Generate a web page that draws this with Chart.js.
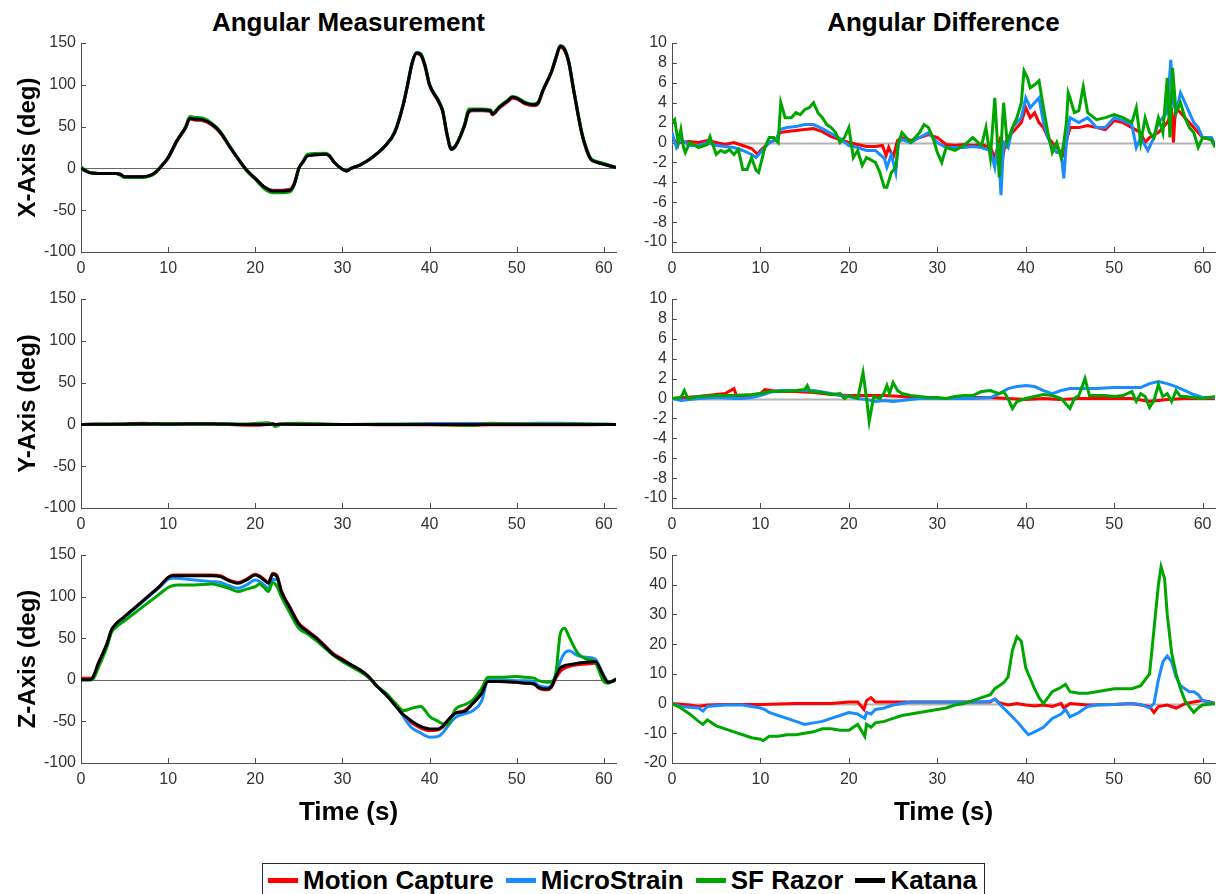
<!DOCTYPE html>
<html>
<head>
<meta charset="utf-8">
<script src="https://cdn.jsdelivr.net/npm/chart.js@4.4.1/dist/chart.umd.min.js"></script>
<style>
  body { margin: 0; background: #fff; width: 1220px; height: 894px; overflow: hidden; position: relative;
         font-family: "Liberation Sans", Arial, sans-serif; }
  canvas { position: absolute; }
  .col-title { position: absolute; top: 7px; height: 30px; line-height: 30px; font-weight: bold; font-size: 26px;
               text-align: center; color: #000; }
  #legend { position: absolute; left: 262px; top: 863px; width: 723px; height: 40px; box-sizing: border-box;
            border: 1px solid #262626; display: flex; align-items: flex-start; padding-left: 5px; }
  #legend .item { display: flex; align-items: center; height: 32px; margin-right: 12px;
                  font-weight: bold; font-size: 26px; color: #000; white-space: nowrap; }
  #legend .item i { display: inline-block; width: 30px; height: 5px; margin-right: 5px; }
</style>
</head>
<body>
<div class="col-title" style="left:81px;width:535px">Angular Measurement</div>
<div class="col-title" style="left:672px;width:543px">Angular Difference</div>

<canvas id="measX"></canvas>
<canvas id="measY"></canvas>
<canvas id="measZ"></canvas>
<canvas id="diffX"></canvas>
<canvas id="diffY"></canvas>
<canvas id="diffZ"></canvas>

<div id="legend">
  <span class="item"><i style="background:#ff0000"></i>Motion Capture</span>
  <span class="item"><i style="background:#1a8cff"></i>MicroStrain</span>
  <span class="item"><i style="background:#00a600"></i>SF Razor</span>
  <span class="item"><i style="background:#000000"></i>Katana</span>
</div>

<script>
// ---- tick labels ----
const timeTicks = [0, 10, 20, 30, 40, 50, 60];
const angleTicks = [-100, -50, 0, 50, 100, 150];
const diffTicks = [-10, -8, -6, -4, -2, 0, 2, 4, 6, 8, 10];
const diffZTicks = [-20, -10, 0, 10, 20, 30, 40, 50];

// ---- angular measurement, X axis ----
const timeX = [0, 1, 2, 4, 4.5, 5, 7, 8, 8.5, 9, 10, 11, 12, 12.5, 13, 14, 15, 16, 17, 18,
  19, 20, 21, 22, 23, 24, 24.5, 25, 25.5, 26, 28, 28.5, 29, 30, 30.5, 31, 32, 33, 34, 35,
  36, 37, 37.5, 38, 38.5, 39, 39.5, 40, 41, 41.5, 42, 42.5, 43, 44, 44.5, 45, 46, 47, 47.2, 48,
  49, 49.5, 50, 51, 52, 52.5, 53, 54, 54.5, 55, 55.5, 56, 56.5, 57, 57.5, 58, 58.5, 59, 60, 61.4];
const mocapX = [0, -5, -6, -6, -7, -10, -10, -8, -5, 0, 12, 32, 48, 59, 58, 57, 52, 42, 27, 12,
  -2, -12, -22, -26, -26, -25, -17, 0, 8, 15, 17, 15, 8, -1, -3, 0, 4, 10, 18, 28,
  43, 77, 100, 125, 137, 135, 121, 99, 80, 68, 40, 23, 27, 50, 67, 69, 69, 68, 64, 72,
  80, 84, 83, 77, 75, 78, 92, 115, 131, 145, 141, 125, 95, 66, 40, 22, 11, 8, 5, 1];
const microX = [-1, -5, -6, -6, -7, -10, -11, -8, -5, 0, 13, 33, 49, 60, 59, 58, 53, 43, 27, 12,
  -2, -12, -22, -27, -27, -26, -18, 0, 8, 15, 17, 15, 8, -1, -3, 0, 4, 10, 18, 28,
  44, 78, 102, 127, 139, 137, 123, 101, 82, 69, 41, 23, 27, 51, 68, 70, 70, 69, 65, 73,
  81, 85, 84, 78, 76, 79, 93, 116, 133, 147, 143, 127, 97, 68, 42, 24, 12, 8, 5, 1];
const razorX = [2, -5, -6, -6, -8, -11, -11, -9, -6, 0, 13, 33, 50, 62, 61, 60, 54, 44, 28, 12,
  -3, -13, -24, -29, -29, -28, -19, 0, 9, 17, 18, 16, 8, -1, -3, 0, 4, 10, 18, 28,
  43, 77, 101, 126, 138, 137, 123, 100, 82, 70, 42, 24, 28, 52, 71, 71, 71, 70, 66, 74,
  82, 86, 85, 79, 77, 80, 93, 116, 132, 146, 143, 127, 97, 68, 42, 24, 12, 9, 6, 1];
const katanaX = [0, -5, -6, -6, -7, -10, -10, -8, -5, 0, 13, 33, 49, 60, 59, 58, 53, 43, 27, 12,
  -2, -12, -22, -27, -27, -26, -18, 0, 8, 15, 17, 15, 8, -1, -3, 0, 4, 10, 18, 28,
  43, 77, 101, 126, 138, 136, 122, 100, 81, 69, 41, 23, 27, 51, 68, 70, 70, 69, 65, 73,
  81, 85, 84, 78, 76, 79, 93, 116, 132, 146, 142, 126, 96, 67, 41, 23, 11, 8, 5, 1];

// ---- angular measurement, Y axis ----
const timeY = [0, 5, 7, 10, 15, 19, 21.5, 22, 22.3, 23, 25, 30, 35, 40, 45, 47, 50, 55, 58, 61.4];
const mocapY = [0, 0.5, 1.5, 0.5, 0.5, -1, 0, 1, 0, 0.5, 0, 0, -0.5, -0.5, -1, -0.5, -0.5, -0.5, -0.5, 0];
const microY = [0, 0, 0, 0.5, 0.5, 0, 0, 0, 0, 0, 0, 0, 0, 1, 1, 1, 1, 1.5, 0.5, 0];
const razorY = [0, 0.5, 0.5, 1, 1, 0.5, 2, 0, -2.5, 0.5, 1.5, 0, 0.5, 0, -1, 1.5, 0.5, 0.5, 0.5, 0];
const katanaY = [0, 0.3, 0.5, 0.3, 0.5, 0, 0, 0.3, 0, 0.3, 0, 0, 0, 0, 0, 0, 0, 0, 0, 0];

// ---- angular measurement, Z axis ----
const timeZ = [0, 1, 1.3, 2, 3, 3.5, 4, 5, 6, 7, 8, 9, 10, 10.5, 11, 12, 13, 15, 16, 17,
  18, 19, 20, 20.5, 21, 21.5, 22, 22.5, 23, 24, 25, 26, 27, 28, 29, 30, 31, 32, 33, 34,
  35, 36, 37, 37.5, 38, 39, 39.5, 40, 41, 41.5, 42, 43, 44, 45, 46, 46.7, 48, 50, 51, 52,
  52.5, 53.5, 54, 54.5, 55, 55.5, 56, 57, 58, 59, 60, 60.5, 61, 61.4];
const mocapZ = [2, 2, 2, 20, 44, 60, 67, 76, 85, 94, 103, 112, 123, 126, 126, 126, 126, 126, 125, 120,
  117, 121, 127, 125, 121, 117, 128, 125, 107, 87, 68, 59, 51, 41, 31, 25, 18, 12, 4, -8,
  -18, -30, -42, -47, -52, -58, -60, -61, -60, -57, -50, -40, -37, -28, -16, -2, -2, -3, -4, -5,
  -10, -12, -9, 2, 10, 14, 16, 18, 19, 20, 4, -3, -2, 1];
const microZ = [0, 0, 1, 19, 43, 59, 66, 75, 84, 93, 102, 111, 121, 122, 122, 121, 120, 118, 117, 113,
  110, 114, 120, 118, 114, 110, 121, 120, 104, 85, 66, 57, 49, 39, 30, 23, 17, 11, 3, -8,
  -18, -30, -44, -52, -58, -64, -67, -69, -68, -64, -57, -45, -41, -37, -25, 0, 0, -1, -1, -2,
  -7, -9, -6, 5, 22, 32, 35, 29, 27, 25, 5, -3, -2, 1];
const razorZ = [0, 0, 0, 15, 40, 57, 63, 71, 79, 87, 95, 103, 111, 113, 114, 114, 114, 115, 113, 110,
  106, 109, 112, 115, 111, 106, 117, 112, 100, 80, 62, 55, 47, 38, 29, 22, 16, 10, 3, -8,
  -16, -27, -37, -36, -34, -32, -37, -44, -50, -53, -54, -35, -30, -24, -10, 3, 3, 4, 3, 2,
  -1, -3, -2, 8, 55, 62, 52, 32, 25, 21, -2, -4, -1, 1];
const katanaZ = [0, 0, 2, 20, 44, 60, 67, 76, 85, 94, 103, 112, 123, 125, 125, 125, 125, 125, 124, 119,
  116, 120, 126, 124, 120, 116, 127, 124, 106, 86, 67, 58, 50, 40, 30, 24, 18, 12, 4, -8,
  -18, -30, -42, -46, -50, -56, -58, -59, -59, -56, -50, -40, -38, -28, -16, -2, -2, -3, -4, -5,
  -9, -11, -8, 4, 14, 17, 18, 20, 21, 22, 4, -3, -2, 1];

// ---- angular difference, [time, deg] ----
const diffXMocap = [[0,0.5],[0.5,0],[1,0],[2,0.1],[3,0],[4,0.2],[5,0],[6,-0.2],[7,0],[8,-0.3],[9,-0.6],[9.7,-1.2],
  [10,-0.8],[11,0],[11.8,0.3],[12.2,1.0],[13,1.1],[14,1.2],[15,1.3],[16,1.4],[17,1.1],[18,0.6],[19,0.3],[20,0],
  [21,-0.2],[22,-0.4],[23,-0.4],[23.8,-0.3],[24.2,-1.3],[24.5,-0.5],[25,-1.5],[25.5,0.2],[26,0.5],[27,0.2],[28,0.5],
  [29,0.8],[30,0.5],[31,-0.2],[32,-0.3],[33,-0.2],[34,-0.3],[35,-0.2],[36,-0.5],[36.5,-1.5],[37,0],[37.3,-2],[37.7,0],
  [38,0.5],[39,1.5],[39.5,2],[40,3.5],[40.5,2.5],[41,3],[41.5,2],[42,1.5],[42.5,0.5],[43,0],[44,-1],[44.3,-1.3],
  [44.7,0.5],[45,1.5],[46,1.5],[47,1.7],[48,1.5],[49,1.3],[50,2.2],[51,2],[52,1.5],[53,1],[53.5,0],[54,0.5],[55,1],
  [56,2],[56.5,3],[56.7,0],[56.9,3],[57,3.5],[58,2.5],[59,1.5],[60,0.5],[61,0.3],[61.4,-0.2]];
const diffXMicro = [[0,1],[0.5,-0.5],[1,0.3],[2,-0.3],[3,-0.3],[4,0],[5,-0.3],[6,-0.4],[7,-0.5],[8,-0.8],[9,-1.2],
  [9.5,-1.5],[10,-1.0],[11,0],[11.8,0.3],[12.2,1.3],[13,1.5],[14,1.6],[15,1.8],[16,1.8],[17,1.4],[18,0.9],[19,0.4],
  [20,-0.3],[21,-0.5],[22,-0.8],[23,-0.8],[24,-1.6],[24.3,-2.5],[24.8,-1.2],[25.3,-3],[25.6,0],[26,0.3],[27,0],
  [28,0.5],[29,1.0],[29.5,0.5],[30,0],[31,-0.5],[32,-0.5],[33,-0.5],[34,-0.4],[35,-0.5],[36,-0.8],[36.5,-2.5],
  [36.9,0],[37.2,-5.3],[37.5,0],[38,-0.5],[38.5,1.5],[39,2],[39.5,2.5],[40,4.5],[40.5,3.5],[41,4],[41.5,4.5],[42,2],
  [42.5,0.5],[43,-0.5],[43.5,-1],[44,-1],[44.3,-3.6],[44.6,0],[45,2.5],[46,2],[47,2.5],[48,1.5],[49,1.5],[50,2.5],
  [51,2.2],[52,1.8],[52.5,-0.5],[53,0.5],[53.8,-0.8],[54.5,0.5],[55,2],[55.5,2.5],[56,3],[56.4,8.3],[56.7,4],[57,3],
  [57.5,5],[58,4],[58.5,3],[59,2],[59.5,1.5],[60,0.5],[61,0.5],[61.4,-0.3]];
const diffXRazor = [[0,2],[0.3,2.3],[0.7,0],[1,1.3],[1.3,-0.5],[1.5,-1],[2,0],[3,-0.5],[4,-0.2],[4.3,0.6],[5,-1.2],
  [5.5,-0.8],[6,-1],[6.5,-0.7],[7,-1.2],[7.5,-0.7],[8,-2.7],[8.5,-2.7],[9,-1.5],[9.5,-2.8],[9.8,-3],[10.5,-0.5],
  [11,0.5],[11.5,0.5],[12,0],[12.3,4],[12.8,2.5],[13.5,2.5],[14,3],[14.5,2.8],[15,3.3],[15.5,3.5],[16,4],[16.5,3],
  [17,2.5],[17.5,1.8],[18,1.5],[18.5,1.0],[19,0],[19.5,0.5],[20,1.5],[20.5,-1.5],[21,-0.8],[21.5,-2.3],[22,-1.5],
  [23,-2.0],[23.5,-3],[24,-4.5],[24.3,-4.5],[24.8,-3],[25.3,-2.5],[25.6,0],[26,1],[26.5,0.5],[27,0],[27.5,0.5],
  [28,1],[28.5,1.8],[29,1.5],[29.5,0.5],[30,-1],[30.5,-2],[31,-0.5],[32,-0.8],[33,-0.3],[34,0.5],[35,-0.3],
  [35.5,1.5],[36,-1.5],[36.5,4.5],[36.8,0],[37,-3.5],[37.5,4],[37.9,0],[38.5,1.5],[39,2.5],[39.5,4],[39.8,7.2],
  [40.2,6.5],[40.5,5.5],[41,5.8],[41.5,6.2],[42,3.5],[42.5,1],[43,-1],[43.5,0],[44,-1.5],[44.3,0],[44.6,2],
  [44.8,5],[45,4.5],[45.5,3],[46,3.2],[46.5,5.6],[47,3],[48,2.3],[49,2.5],[50,2.8],[51,2.5],[52,2],[52.5,3.5],
  [53,0],[53.5,2.5],[54,1],[54.5,0.5],[55,2.5],[55.5,1],[56,6.5],[56.3,0.5],[56.6,7.5],[57,3],[57.5,4],[58,2.5],
  [58.5,1.5],[59,1],[59.5,-0.5],[60,0.5],[61,0.3],[61.4,-0.5]];

const diffYMocap = [[0,0],[3,0.2],[5,0.4],[6,0.5],[7,1.0],[7.3,0.3],[8,0.2],[9,0.3],[10,0.5],[10.5,0.9],[12,0.7],
  [14,0.7],[16,0.6],[18,0.4],[20,0.3],[22,0.3],[24,0.3],[26,0.2],[28,0],[30,0],[32,0],[34,0.1],[36,0.1],[38,0],
  [40,-0.1],[42,0],[44,-0.1],[46,0],[48,0],[50,0],[52,0],[54,-0.3],[56,-0.1],[58,0],[60,0],[61.4,0]];
const diffYMicro = [[0,0],[1,-0.2],[3,0],[5,0.1],[7,0],[8,0],[9,0.1],[10,0.3],[11,0.6],[12,0.8],[14,0.8],[16,0.8],
  [18,0.5],[19,0.3],[20,0.2],[21,0],[22,-0.1],[23,-0.3],[24,-0.2],[25,-0.3],[26,-0.2],[28,0],[30,0],[32,0],[34,0],
  [36,0.1],[37,0.5],[38,1.0],[39,1.2],[40,1.3],[41,1.2],[42,0.8],[43,0.5],[44,0.8],[45,1.0],[46,1.0],[47,1.0],
  [48,1.0],[50,1.1],[51,1.1],[52,1.1],[53,1.1],[54,1.5],[55,1.7],[56,1.5],[57,1.2],[58,0.8],[59,0.4],[60,0.1],[61.4,0.1]];
const diffYRazor = [[0,0],[1,0.1],[1.4,0.8],[1.8,0],[3,0.2],[5,0.3],[7,0.3],[9,0.4],[10,0.5],[11,0.7],[12,0.7],
  [14,0.8],[15,0.9],[15.3,1.3],[15.6,0.7],[17,0.6],[18,0.4],[19,0.5],[19.5,0],[20,0.3],[21,0],[21.6,2.6],[22,0],
  [22.3,-2.3],[22.8,0.2],[23.5,0],[24,0.6],[24.3,1.3],[24.6,0.5],[25,1.6],[25.5,0.8],[26,0.5],[27,0.3],[28,0.2],
  [29,0.1],[30,0.1],[31,0],[32,0.2],[33,0.3],[34,0.3],[35,0.7],[36,0.8],[37,0.5],[37.5,0.7],[38,0],[38.5,-1],
  [39,-0.3],[40,0],[41,0.2],[42,0.4],[43,0.3],[44,0],[45,-1],[45.5,0],[46,0.3],[46.7,2.0],[47.2,0.3],[48,0.3],
  [49,0.3],[50,0.2],[51,0.3],[52,0.7],[52.5,-0.3],[53,0.5],[53.5,0.2],[54,-0.9],[54.5,-0.2],[55,1.4],[55.5,0.2],
  [56,0.5],[56.5,-0.3],[57,0.8],[57.5,0.2],[58,0.2],[59,0.1],[60,0],[61.4,0.2]];

const diffZMocap = [[0,0],[2,-0.5],[3,-1],[4,-0.5],[6,-0.3],[10,-0.3],[14,0],[16,0],[18,0],[20,0.5],[21,0.5],
  [21.7,-2],[22,1],[22.5,2],[23,0.5],[25,0.5],[28,0.5],[30,0.5],[33,0.5],[35,0.5],[36,0.5],[36.5,1.5],[37,0.3],
  [38,-0.5],[39,0],[40,-0.5],[41,-0.8],[42,-0.5],[43,-1],[44,0],[44.3,-1.5],[45,0],[47,-0.5],[50,-0.3],[52,0],
  [53,-0.5],[54,-1],[54.5,-3],[55,-1],[56,-0.5],[57,-1.5],[58,0],[59,0.5],[60,1],[61,0.5],[61.4,0]];
const diffZMicro = [[0,0],[1,-1],[2,-1.2],[3,-1.5],[3.5,-2.5],[4,-1],[6,-0.5],[8,-0.5],[9,-1],[10,-1.5],[10.5,-2],
  [11,-3],[12,-4],[13,-5],[14,-6],[15,-7],[16,-6.5],[17,-6],[18,-5],[19,-4],[20,-3],[21,-3.5],[21.8,-5],[22,-3],
  [22.5,-3.5],[23,-2],[24,-1.5],[25,-0.5],[27,0.5],[30,0.5],[33,0.5],[35,0.5],[36,0.8],[36.5,1.5],[37,0],[38,-3],
  [39,-6],[40,-9.5],[40.3,-10.5],[41,-9.5],[42,-8],[43,-5],[44,-3.5],[44.5,-2],[45,-4.5],[46,-3],[47,-1],[48,-0.5],
  [50,-0.3],[52,0],[53,-0.3],[54,-1.5],[54.5,0],[55,8],[55.5,14],[56,16],[56.5,14],[57,9],[57.5,6],[58,5],
  [58.5,4],[59,4],[59.5,3],[60,1],[61.4,0]];
const diffZRazor = [[0,0],[1,-1.5],[2,-3.5],[3,-6],[3.5,-7],[4,-5.5],[5,-7.5],[6,-8.5],[7,-9.5],[8,-10.5],[9,-11.5],
  [10,-12],[10.3,-12.5],[11,-11],[12,-11],[13,-10.5],[14,-10.5],[15,-10],[16,-9.5],[17,-8.5],[18,-8.5],[19,-9],
  [20,-9],[20.5,-8],[21,-7],[21.8,-11],[22,-7],[22.5,-8],[23,-6.5],[24,-6],[25,-5],[26,-4],[27,-3.5],[28,-3],
  [29,-2.5],[30,-2],[31,-1.5],[32,-0.5],[33,0],[34,1],[35,2],[36,3],[36.5,5],[37,6],[37.5,7],[38,9],[38.5,18],
  [39,22.5],[39.5,21],[40,12],[41,5],[41.5,2],[42,0],[43,4],[44,5.5],[44.5,6.5],[45,4],[46,3.5],[47,3.5],[48,4],
  [50,5],[52,5],[53,6],[54,10],[54.5,25],[55,40],[55.3,46],[55.7,42],[56,30],[56.5,17],[57,10],[57.5,5],[58,1],
  [58.5,-1],[59,-3],[59.5,-1.5],[60,-0.5],[61.4,0]];

// ---- drawing ----
Chart.defaults.font.family = '"Liberation Sans", Arial, sans-serif';
const RED = '#ff0000', BLUE = '#1a8cff', GREEN = '#00a600', BLACK = '#000000';
const AXIS = '#4d4d4d', TEXT = '#333333';

const innerTicks = {
  id: 'innerTicks',
  beforeDatasetsDraw(chart, args, opts) {
    const { ctx, chartArea: a, scales: { x, y } } = chart;
    ctx.save();
    const y0 = Math.round(y.getPixelForValue(0)) + 0.5;
    ctx.strokeStyle = opts.zeroColor;
    ctx.lineWidth = opts.zeroWidth;
    ctx.beginPath(); ctx.moveTo(a.left, y0); ctx.lineTo(a.right, y0); ctx.stroke();
    ctx.strokeStyle = AXIS; ctx.lineWidth = 1;
    ctx.beginPath();
    x.ticks.forEach(t => {
      const px = Math.round(x.getPixelForValue(t.value)) + 0.5;
      ctx.moveTo(px, a.bottom); ctx.lineTo(px, a.bottom - 5);
    });
    y.ticks.forEach(t => {
      const py = Math.round(y.getPixelForValue(t.value)) + 0.5;
      ctx.moveTo(a.left, py); ctx.lineTo(a.left + 5, py);
    });
    ctx.stroke();
    ctx.restore();
  }
};

const pts = (ts, vs) => ts.map((t, i) => ({ x: t, y: vs[i] }));
const pairs = arr => arr.map(p => ({ x: p[0], y: p[1] }));

// lower order is drawn on top
function line(data, color, order, smooth) {
  return { data, borderColor: color, borderWidth: 3, pointRadius: 0, fill: false, order,
           cubicInterpolationMode: smooth ? 'monotone' : 'default', tension: smooth ? 0.4 : 0 };
}

// area: wanted plot box in page pixels
function panel(id, area, o) {
  const padTop = 16;
  const cv = document.getElementById(id);
  cv.style.left = (area.left - o.yWidth) + 'px';
  cv.style.top = (area.top - padTop) + 'px';
  cv.width = o.yWidth + area.width + o.padRight;
  cv.height = padTop + area.height + o.xHeight;
  new Chart(cv, {
    type: 'line',
    data: { datasets: o.datasets },
    options: {
      responsive: false, animation: false, events: [],
      layout: { padding: { top: padTop, right: o.padRight, left: 0, bottom: 0 } },
      plugins: { legend: { display: false }, tooltip: { enabled: false },
                 innerTicks: { zeroColor: o.zeroColor, zeroWidth: o.zeroWidth } },
      scales: {
        x: {
          type: 'linear', min: 0, max: 61.4,
          afterBuildTicks: s => { s.ticks = timeTicks.map(v => ({ value: v })); },
          afterFit: s => { s.height = o.xHeight; },
          grid: { display: false, drawTicks: false },
          border: { display: true, color: AXIS, width: 1 },
          ticks: { padding: 7, color: TEXT, font: { size: 16 }, autoSkip: false, maxRotation: 0 },
          title: o.xTitle ? { display: true, text: o.xTitle, color: '#000',
                              font: { size: 26, weight: 'bold' }, padding: { top: 0, bottom: 4 } }
                          : { display: false }
        },
        y: {
          type: 'linear', min: o.yMin, max: o.yMax,
          afterBuildTicks: s => { s.ticks = o.yTicks.map(v => ({ value: v })); },
          afterFit: s => { s.width = o.yWidth; },
          grid: { display: false, drawTicks: false },
          border: { display: true, color: AXIS, width: 1 },
          ticks: { padding: 5, color: TEXT, font: { size: 16 }, autoSkip: false },
          title: o.yTitle ? { display: true, text: o.yTitle, color: '#000',
                              font: { size: 24, weight: 'bold' }, padding: { top: 14, bottom: 0 } }
                          : { display: false }
        }
      }
    },
    plugins: [innerTicks]
  });
}

const LEFT = { left: 81, width: 535 };
const RIGHT = { left: 672, width: 543 };
const ROW1 = { top: 43, height: 209 }, ROW2 = { top: 299, height: 209 }, ROW3 = { top: 555, height: 208 };
const leftOpts = { yWidth: 81, padRight: 6, yMin: -100, yMax: 150, yTicks: angleTicks, zeroColor: '#666666', zeroWidth: 1 };
const rightOpts = { yWidth: 52, padRight: 5, zeroColor: '#b3b3b3', zeroWidth: 2 };

panel('measX', { ...LEFT, ...ROW1 }, { ...leftOpts, xHeight: 30, yTitle: 'X-Axis (deg)',
  datasets: [line(pts(timeX, mocapX), RED, 3, true), line(pts(timeX, microX), BLUE, 2, true),
             line(pts(timeX, razorX), GREEN, 1, true), line(pts(timeX, katanaX), BLACK, 0, true)] });
panel('measY', { ...LEFT, ...ROW2 }, { ...leftOpts, xHeight: 30, yTitle: 'Y-Axis (deg)',
  datasets: [line(pts(timeY, mocapY), RED, 3, true), line(pts(timeY, microY), BLUE, 2, true),
             line(pts(timeY, razorY), GREEN, 1, true), line(pts(timeY, katanaY), BLACK, 0, true)] });
panel('measZ', { ...LEFT, ...ROW3 }, { ...leftOpts, xHeight: 69, yTitle: 'Z-Axis (deg)', xTitle: 'Time (s)',
  datasets: [line(pts(timeZ, mocapZ), RED, 3, true), line(pts(timeZ, microZ), BLUE, 2, true),
             line(pts(timeZ, razorZ), GREEN, 1, true), line(pts(timeZ, katanaZ), BLACK, 0, true)] });

panel('diffX', { ...RIGHT, ...ROW1 }, { ...rightOpts, xHeight: 30, yMin: -11, yMax: 10, yTicks: diffTicks,
  datasets: [line(pairs(diffXMocap), RED, 2), line(pairs(diffXMicro), BLUE, 1), line(pairs(diffXRazor), GREEN, 0)] });
panel('diffY', { ...RIGHT, ...ROW2 }, { ...rightOpts, xHeight: 30, yMin: -11, yMax: 10, yTicks: diffTicks,
  datasets: [line(pairs(diffYMocap), RED, 2), line(pairs(diffYMicro), BLUE, 1), line(pairs(diffYRazor), GREEN, 0)] });
panel('diffZ', { ...RIGHT, ...ROW3 }, { ...rightOpts, xHeight: 69, yMin: -20, yMax: 50, yTicks: diffZTicks,
  xTitle: 'Time (s)',
  datasets: [line(pairs(diffZMocap), RED, 2), line(pairs(diffZMicro), BLUE, 1), line(pairs(diffZRazor), GREEN, 0)] });
</script>
</body>
</html>
